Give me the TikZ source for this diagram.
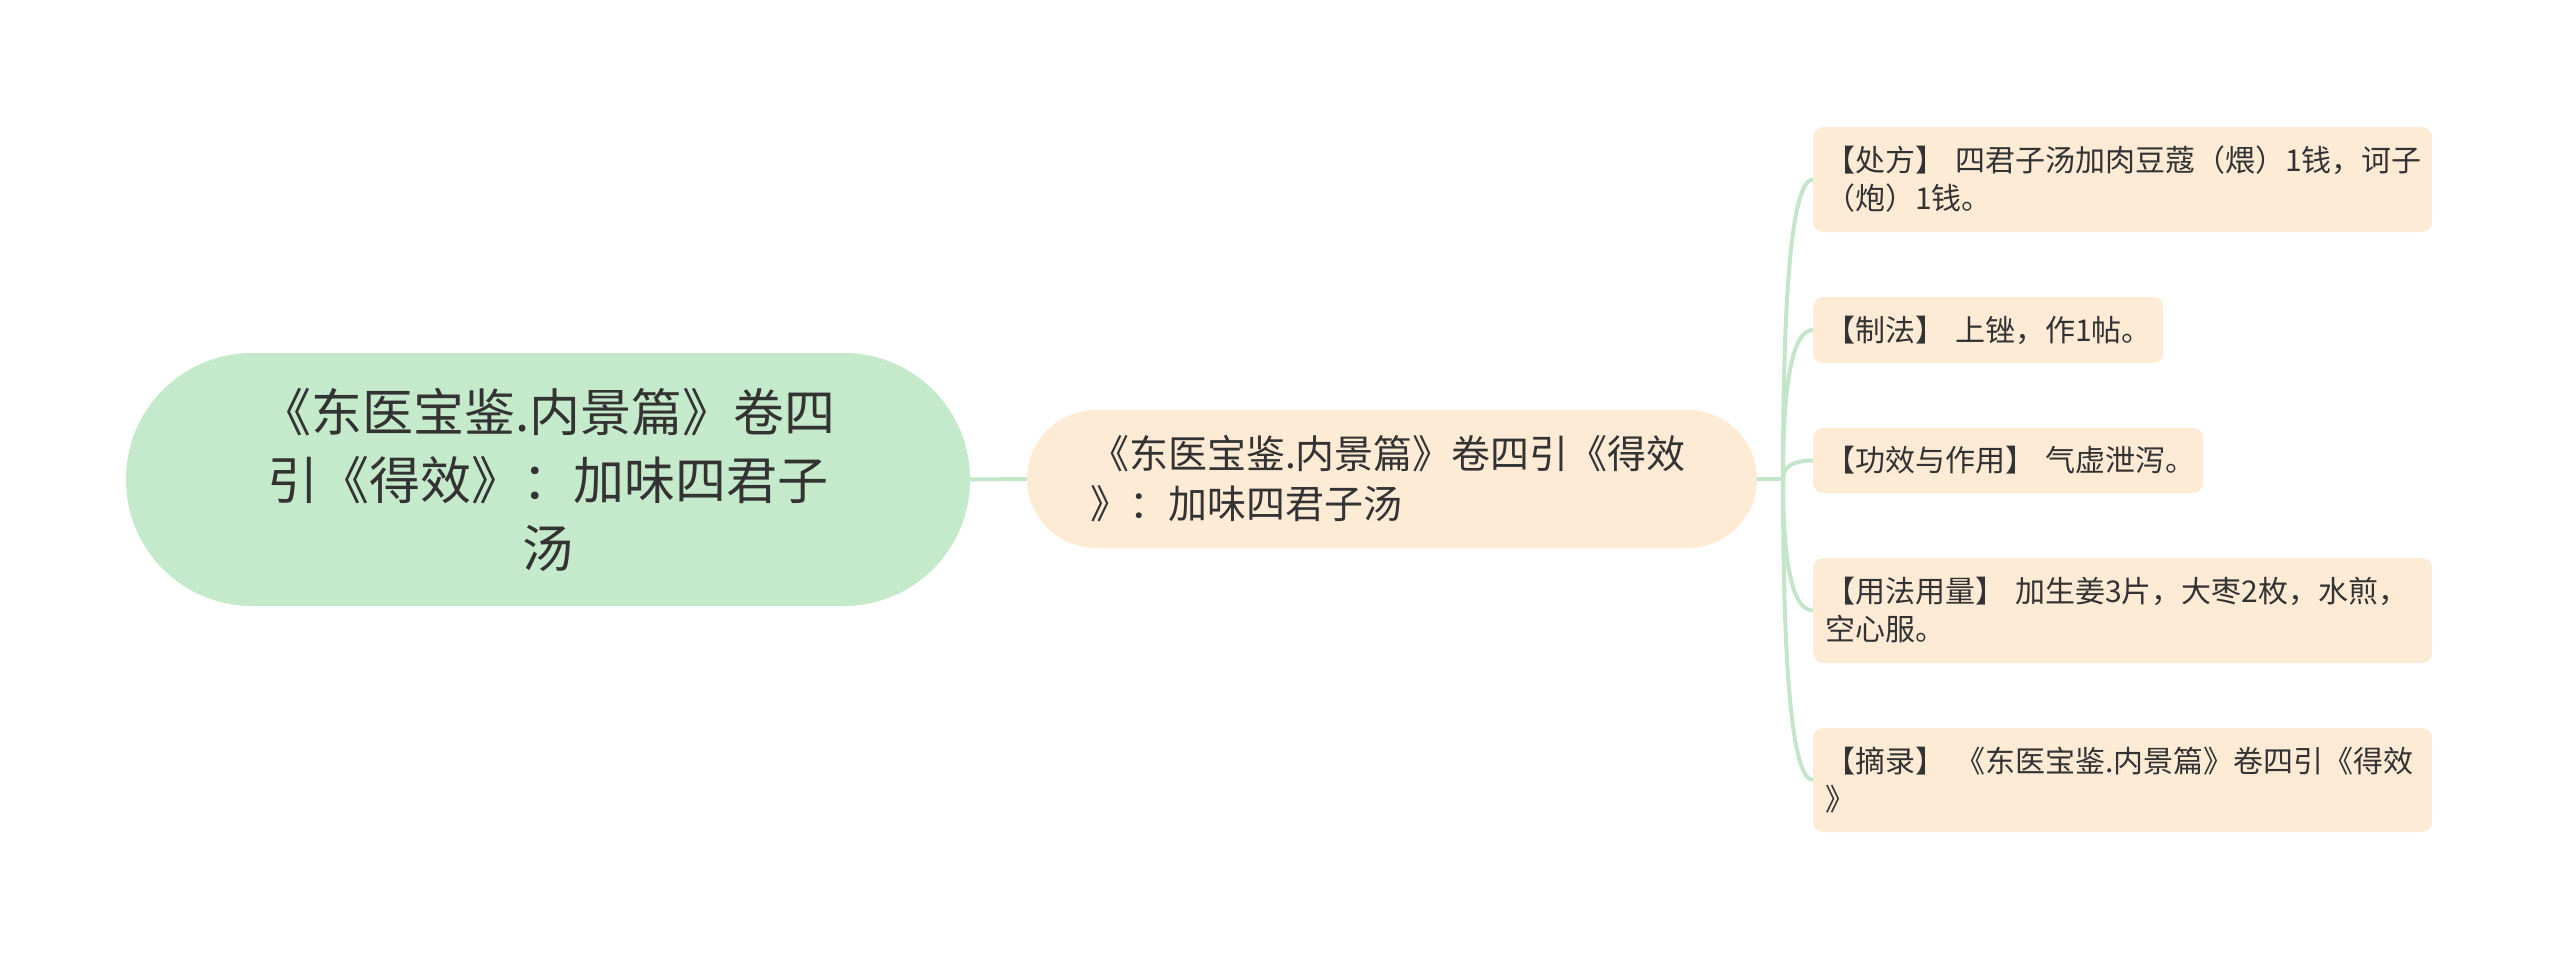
\documentclass[tikz,border=0pt]{standalone}
\usepackage{fontspec}
\setmainfont{Noto Sans CJK SC}
\usetikzlibrary{calc}
\definecolor{rootfill}{HTML}{C5EACB}
\definecolor{peach}{HTML}{FDEBD5}
\definecolor{linkcol}{HTML}{C3E6C8}
\definecolor{inkcol}{HTML}{333333}
\begin{document}
\begin{tikzpicture}[x=1pt,y=-1pt,
  rootbox/.style={fill=rootfill, rounded corners=126pt, minimum width=844pt, minimum height=253pt, inner sep=0pt, align=center, text=inkcol, font=\fontsize{51}{68}\selectfont},
  midbox/.style={fill=peach, rounded corners=69pt, minimum width=730pt, minimum height=138pt, text width=604pt, inner xsep=60pt, inner ysep=0pt, align=left, text=inkcol, font=\fontsize{39}{50}\selectfont},
  leafbox/.style={fill=peach, rounded corners=10pt, inner xsep=12pt, inner ysep=0pt, align=left, text=inkcol, font=\fontsize{30}{38}\selectfont, anchor=west},
  linkline/.style={draw=linkcol, line width=4pt}]
\useasboundingbox (0,0) rectangle (2560,959);
\node[rootbox] (root) at (548,479.5) {《东医宝鉴.内景篇》卷四\\引《得效》：加味四君子\\汤};
\node[midbox] (mid) at (1392,479) {《东医宝鉴.内景篇》卷四引《得效\\》：加味四君子汤};
\node[leafbox, minimum height=105pt, text width=595pt] (l1) at (1813,179.5) {【处方】~四君子汤加肉豆蔻（煨）1钱，诃子\\（炮）1钱。};
\node[leafbox, minimum height=66pt, text width=326pt] (l2) at (1813,330) {【制法】~上锉，作1帖。};
\node[leafbox, minimum height=65pt, text width=366pt] (l3) at (1813,460.5) {【功效与作用】~气虚泄泻。};
\node[leafbox, minimum height=105pt, text width=595pt] (l4) at (1813,610.5) {【用法用量】~加生姜3片，大枣2枚，水煎，\\空心服。};
\node[leafbox, minimum height=104pt, text width=595pt] (l5) at (1813,780) {【摘录】~《东医宝鉴.内景篇》卷四引《得效\\》};
\coordinate (J) at (1783,479);
\draw[linkline] (root.east) -- (mid.west);
\draw[linkline] (mid.east) -- (J);
\foreach \n in {l1,l2,l3,l4,l5}
  \draw[linkline] (J) .. controls ($(J)!0.667!(J |- \n.west)$) and ($(\n.west)!0.667!(J |- \n.west)$) .. (\n.west);
\end{tikzpicture}
\end{document}
